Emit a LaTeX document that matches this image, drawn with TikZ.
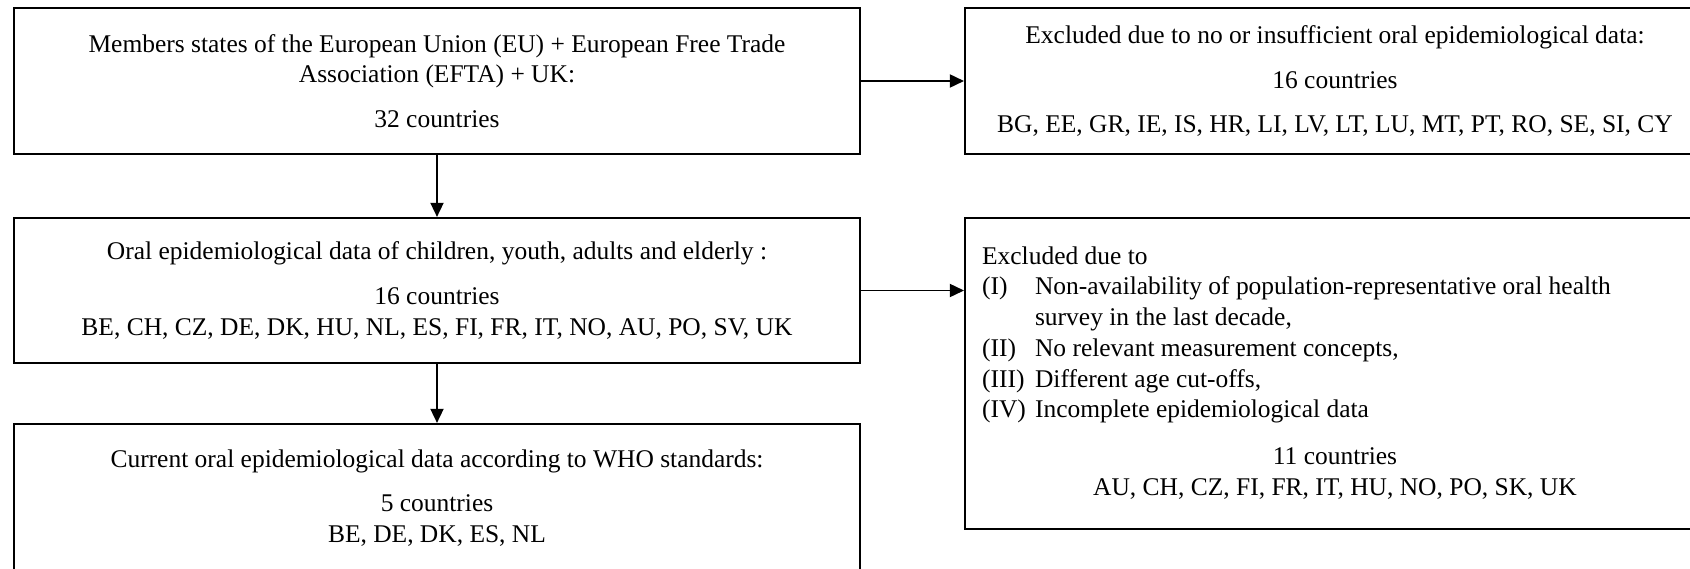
\documentclass[tikz,border=0pt]{standalone}
\usepackage{fontspec}
\setmainfont{Liberation Serif}
\usetikzlibrary{arrows.meta}

\begin{document}
\begin{tikzpicture}[
    x=0.02cm, y=-0.02cm,
    font=\fontsize{14.5}{17.5}\selectfont,
    stage/.style={draw, line width=1.3pt, align=center, inner sep=0pt},
    wide/.style={minimum width=16.92cm},
    side/.style={minimum width=14.8cm},
    flow/.style={line width=0.75pt, -{Triangle[length=8pt, width=7.5pt]}},
  ]
  \useasboundingbox (0,0) rectangle (1690,568);

  % Included
  \node [stage, wide, minimum height=2.93cm] (members) at (437,81)
    {Members states of the European Union (EU) + European Free Trade\\
     Association (EFTA) + UK:\\[8pt]
     32 countries};
  \node [stage, wide, minimum height=2.9cm] (oral) at (437,290.5)
    {Oral epidemiological data of children, youth, adults and elderly :\\[8pt]
     16 countries\\
     BE, CH, CZ, DE, DK, HU, NL, ES, FI, FR, IT, NO, AU, PO, SV, UK};
  \node [stage, wide, minimum height=2.96cm] (who) at (437,498)
    {Current oral epidemiological data according to WHO standards:\\[8pt]
     5 countries\\
     BE, DE, DK, ES, NL};

  % Excluded
  \node [stage, side, minimum height=2.93cm] (nodata) at (1335,81)
    {Excluded due to no or insufficient oral epidemiological data:\\[8pt]
     16 countries\\[8pt]
     BG, EE, GR, IE, IS, HR, LI, LV, LT, LU, MT, PT, RO, SE, SI, CY};
  \node [stage, side, minimum height=6.22cm] (reasons) at (1335,373.5)
    {\begin{tabular}{@{}p{1.06cm}@{}p{13.06cm}@{}}
       \multicolumn{2}{@{}l@{}}{Excluded due to}\\
       (I)   & Non-availability of population-representative oral health\\
             & survey in the last decade,\\
       (II)  & No relevant measurement concepts,\\
       (III) & Different age cut-offs,\\
       (IV)  & Incomplete epidemiological data\\[9pt]
       \multicolumn{2}{@{}c@{}}{11 countries}\\
       \multicolumn{2}{@{}c@{}}{AU, CH, CZ, FI, FR, IT, HU, NO, PO, SK, UK}
     \end{tabular}};

  \draw[flow] (members) -- (oral);
  \draw[flow] (oral) -- (who);
  \draw[flow] (members) -- (nodata);
  \draw[flow] (oral.east) -- (oral.east -| reasons.west);
\end{tikzpicture}
\end{document}
